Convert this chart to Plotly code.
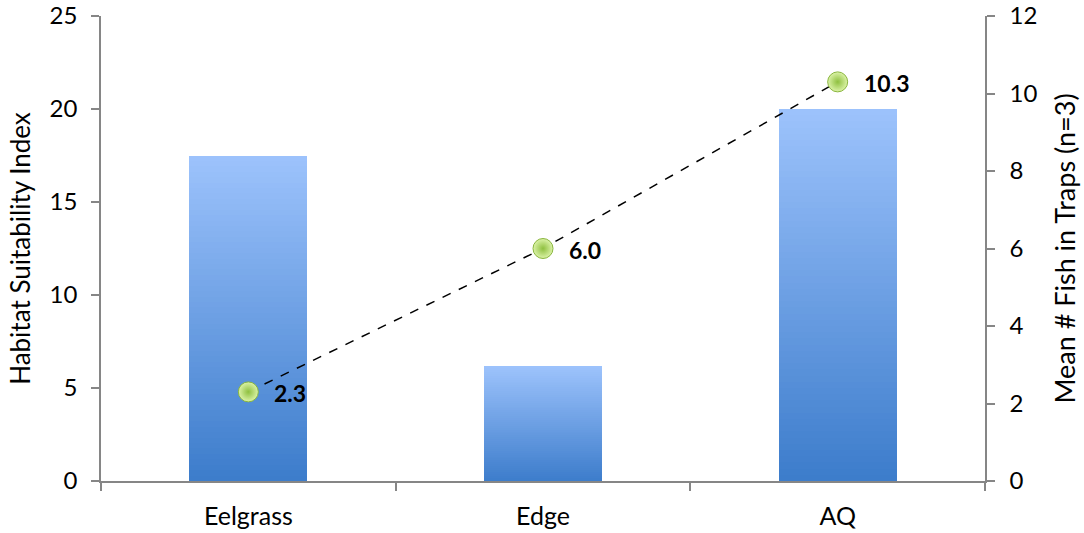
import plotly.graph_objects as go

categories = ["Eelgrass", "Edge", "AQ"]
hsi_values = [17.5, 6.2, 20.0]
fish_values = [2.3, 6.0, 10.3]
fish_labels = ["2.3", "6.0", "10.3"]

FONT = "Lato"
N_SLICES = 60
top_rgb = (157, 195, 252)
bot_rgb = (60, 124, 203)

fig = go.Figure()

# gradient bars: each bar stacked from thin slices, bottom (dark) to top (light)
for k in range(N_SLICES):
    t = (k + 0.5) / N_SLICES
    c = tuple(round(b + (tp - b) * t) for b, tp in zip(bot_rgb, top_rgb))
    fig.add_trace(go.Bar(
        x=categories,
        y=[v / N_SLICES for v in hsi_values],
        marker=dict(color="rgb(%d,%d,%d)" % c, line=dict(width=0)),
        showlegend=False, hoverinfo="skip",
    ))

fig.add_trace(go.Scatter(
    x=categories, y=fish_values, yaxis="y2",
    mode="lines+markers",
    line=dict(color="black", width=1.5, dash="dash"),
    marker=dict(size=20, color="#dcf3a8",
                gradient=dict(type="radial", color="#8fc040"),
                line=dict(color="#8ab63e", width=1)),
    showlegend=False,
))

for cat, val, lab in zip(categories, fish_values, fish_labels):
    fig.add_annotation(
        x=cat, y=val, yref="y2", text="<b>%s</b>" % lab, showarrow=False,
        xanchor="left", xshift=24, yshift=-1,
        font=dict(family=FONT, size=23, color="black"),
    )

axis_col = "#868686"
fig.update_layout(
    width=1084, height=533,
    margin=dict(l=101, r=99, t=16, b=52, autoexpand=False),
    paper_bgcolor="white", plot_bgcolor="white",
    barmode="stack", bargap=0.6,
    font=dict(family=FONT, size=25, color="black"),
    xaxis=dict(
        type="category", showline=True, linecolor=axis_col, linewidth=1.5,
        ticks="outside", tickson="boundaries", ticklen=8, tickcolor=axis_col,
        tickwidth=1.5, showgrid=False, tickfont=dict(size=25), automargin=False,
        ticklabelstandoff=12,
    ),
    yaxis=dict(
        range=[0, 25], dtick=5, showline=True, linecolor=axis_col, linewidth=1.5,
        ticks="outside", ticklen=8, tickcolor=axis_col, tickwidth=1.5,
        showgrid=False, zeroline=False, tickfont=dict(size=24), automargin=False,
        ticklabelstandoff=9, ticklabeloverflow="allow",
        title=dict(text="Habitat Suitability Index", font=dict(size=26), standoff=12),
    ),
    yaxis2=dict(
        range=[0, 12], dtick=2, overlaying="y", side="right",
        showline=True, linecolor=axis_col, linewidth=1.5,
        ticks="outside", ticklen=8, tickcolor=axis_col, tickwidth=1.5,
        showgrid=False, zeroline=False, tickfont=dict(size=24), automargin=False,
        ticklabelstandoff=10, ticklabeloverflow="allow",
        title=dict(text="Mean # Fish in Traps (n=3)", font=dict(size=27), standoff=20),
    ),
)

fig.write_html("out.html", config={"displayModeBar": False},
               post_script="document.body.style.margin='0';document.body.style.overflow='hidden';")
